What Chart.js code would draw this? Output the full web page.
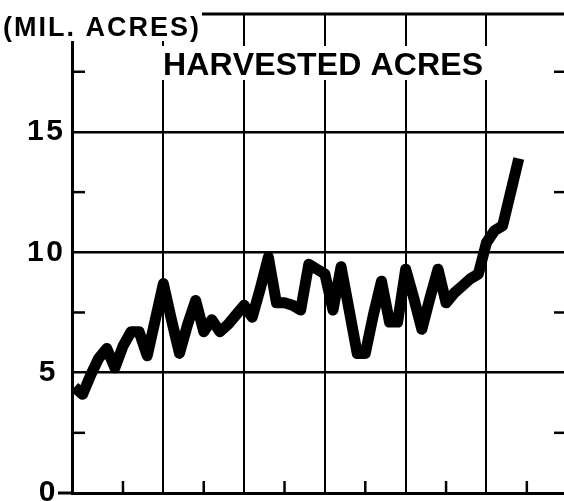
<!DOCTYPE html>
<html>
<head>
<meta charset="utf-8">
<script src="https://cdn.jsdelivr.net/npm/chart.js@4"></script>
<style>
  html, body { margin: 0; padding: 0; background: #fff; }
  #c { display: block; }
</style>
</head>
<body>
<canvas id="c" width="564" height="501"></canvas>
<script>
const years = [1909,1910,1911,1912,1913,1914,1915,1916,1917,1918,1919,1920,1921,1922,1923,1924,1925,1926,1927,1928,1929,1930,1931,1932,1933,1934,1935,1936,1937,1938,1939,1940,1941,1942,1943,1944,1945,1946,1947,1948,1949,1950,1951,1952,1953,1954,1955,1956,1957,1958,1959,1960,1961,1962,1963,1964];
const acres = [4.4,4.1,4.9,5.6,6.0,5.2,6.1,6.7,6.7,5.7,7.2,8.7,7.2,5.8,7.0,8.0,6.7,7.2,6.7,7.0,7.4,7.8,7.3,8.5,9.8,7.9,7.9,7.8,7.6,9.5,9.3,9.1,7.6,9.4,7.6,5.8,5.8,7.4,8.8,7.1,7.1,9.3,8.1,6.8,8.1,9.3,7.9,8.3,8.6,8.9,9.1,10.4,10.9,11.1,12.5,13.9];
const yTicks = [0, 5, 10, 15];
const yTickLabels = ["0", "5", "10", "15"];
const yMinorTicks = [2.5, 7.5, 12.5, 17.5];
const xGridYears = [1920, 1930, 1940, 1950, 1960];
const xMinorYears = [1915, 1925, 1935, 1945, 1955, 1965];
const titleText = "HARVESTED ACRES";
const unitText = "(MIL. ACRES)";

const FONT = '"Liberation Sans", Arial, sans-serif';

// draws text so that it spans exactly from x0 (left) to x1 (right edge of last glyph)
function fitText(ctx, text, x0, x1, baseline) {
  const chars = [...text];
  const widths = chars.map(c => ctx.measureText(c).width);
  const total = widths.reduce((a, b) => a + b, 0);
  const extra = chars.length > 1 ? (x1 - x0 - total) / (chars.length - 1) : 0;
  let x = x0;
  chars.forEach((c, i) => { ctx.fillText(c, x, baseline); x += widths[i] + extra; });
}

const decor = {
  id: 'decor',
  afterDraw(chart) {
    const ctx = chart.ctx;
    const xs = chart.scales.x, ys = chart.scales.y;
    const area = chart.chartArea;
    ctx.save();
    // open top-left corner
    ctx.fillStyle = '#fff';
    ctx.fillRect(0, 0, 202, 41);
    // top border
    ctx.strokeStyle = '#000';
    ctx.lineWidth = 3;
    ctx.beginPath();
    ctx.moveTo(202, area.top); ctx.lineTo(area.right, area.top);
    ctx.stroke();
    // bottom axis extension to the left
    ctx.beginPath();
    ctx.moveTo(58, ys.getPixelForValue(0)); ctx.lineTo(area.left, ys.getPixelForValue(0));
    ctx.stroke();
    // minor ticks on y (both sides, inward)
    ctx.lineWidth = 2.5;
    yMinorTicks.forEach(v => {
      const y = ys.getPixelForValue(v);
      ctx.beginPath(); ctx.moveTo(area.left, y); ctx.lineTo(area.left + 13, y); ctx.stroke();
      ctx.beginPath(); ctx.moveTo(area.right, y); ctx.lineTo(area.right - 10, y); ctx.stroke();
    });
    // minor ticks on x (inward)
    xMinorYears.forEach(v => {
      const x = xs.getPixelForValue(v);
      if (x > area.right) return;
      ctx.beginPath(); ctx.moveTo(x, area.bottom); ctx.lineTo(x, area.bottom - 12); ctx.stroke();
    });
    // y tick labels
    ctx.fillStyle = '#000';
    ctx.textBaseline = 'middle';
    ctx.font = 'bold 30px ' + FONT;
    yTicks.forEach((v, i) => {
      const y = ys.getPixelForValue(v);
      const t = yTickLabels[i];
      if (t.length > 1) {
        ctx.textAlign = 'left';
        fitText(ctx, t, 27, 63, y);
      } else {
        ctx.textAlign = 'center';
        ctx.fillText(t, 47, y);
      }
    });
    // title with white background
    ctx.fillStyle = '#fff';
    ctx.fillRect(159, 46, 328, 34);
    ctx.fillStyle = '#000';
    ctx.textBaseline = 'alphabetic';
    ctx.textAlign = 'left';
    ctx.font = 'bold 32px ' + FONT;
    fitText(ctx, titleText, 163, 483, 75);
    // unit label
    ctx.font = 'bold 27px ' + FONT;
    fitText(ctx, unitText, 3, 199, 36);
    ctx.restore();
  }
};

new Chart(document.getElementById('c'), {
  type: 'line',
  data: {
    datasets: [{
      data: years.map((yr, i) => ({ x: yr, y: acres[i] })),
      borderColor: '#000',
      backgroundColor: '#000',
      borderWidth: 11,
      pointRadius: 0,
      tension: 0,
      borderJoinStyle: 'round',
      borderCapStyle: 'butt',
      fill: false
    }]
  },
  options: {
    responsive: false,
    animation: false,
    devicePixelRatio: 1,
    layout: { padding: { top: 14, right: 0, bottom: 0, left: 0 } },
    plugins: { legend: { display: false }, tooltip: { enabled: false }, title: { display: false } },
    scales: {
      x: {
        type: 'linear',
        min: 1908.69,
        max: 1969.6,
        afterBuildTicks: s => { s.ticks = xGridYears.map(v => ({ value: v })); },
        afterFit: s => { s.height = 8; },
        ticks: { display: false },
        grid: { color: '#000', lineWidth: 2, drawTicks: false },
        border: { display: true, color: '#000', width: 3 }
      },
      y: {
        min: 0,
        max: 19.9,
        afterBuildTicks: s => { s.ticks = yTicks.map(v => ({ value: v })); },
        afterFit: s => { s.width = 72; },
        ticks: { display: false },
        grid: {
          color: c => (c.tick && c.tick.value === 0) ? 'rgba(0,0,0,0)' : '#000',
          lineWidth: 2.5,
          drawTicks: false
        },
        border: { display: true, color: '#000', width: 3 }
      }
    }
  },
  plugins: [decor]
});
</script>
</body>
</html>
